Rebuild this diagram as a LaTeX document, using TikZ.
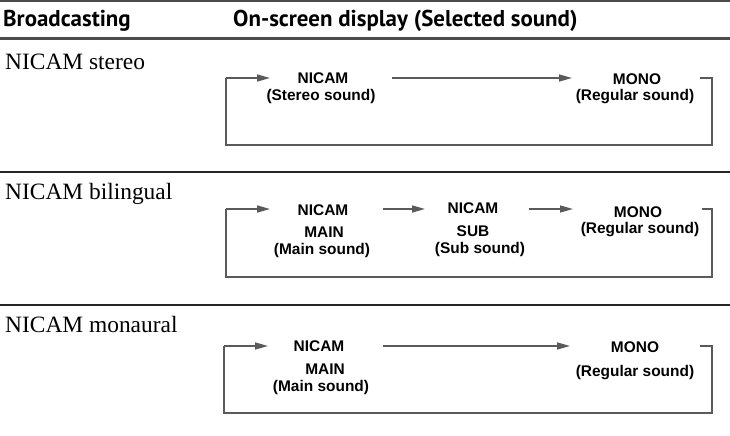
\documentclass[tikz,border=0pt]{standalone}
\usepackage{fontspec}
\setmainfont{Liberation Serif}
\newfontfamily\diagfont{Liberation Sans}
\newfontfamily\hdrfont{PT Sans}
\usetikzlibrary{arrows.meta}
\definecolor{linegray}{HTML}{5A5A5A}
\begin{document}
\begin{tikzpicture}[x=1bp,y=-1bp,
  lbl/.style={inner sep=0pt, font=\diagfont\bfseries\fontsize{15.5}{18}\selectfont},
  hdr/.style={inner sep=0pt, anchor=base west, font=\hdrfont\bfseries\fontsize{23}{26}\selectfont},
  row/.style={inner sep=0pt, anchor=base west, font=\fontsize{23.5}{27}\selectfont},
  loop/.style={draw=linegray, line width=1.5bp},
  arr/.style={loop, -{Triangle[length=13bp,width=7bp]}},
  rule/.style={draw=black!70, line width=2.2bp},
  sep/.style={draw=black!85, line width=1.1bp}]
\useasboundingbox (0,0) rectangle (730,436);
% header
\coordinate (r1a) at (0,1.2); \coordinate (r1b) at (730,1.2);
\coordinate (r2a) at (0,38.5); \coordinate (r2b) at (730,38.5);
\draw[rule] (r1a) -- (r1b);
\draw[rule] (r2a) -- (r2b);
\node[hdr] (hb) at (3,27) {Broadcasting};
\node[hdr] (ho) at (233,27) {On-screen display (Selected sound)};
% separators
\coordinate (s1a) at (0,172); \coordinate (s1b) at (730,172);
\coordinate (s2a) at (0,305); \coordinate (s2b) at (730,305);
\draw[sep] (s1a) -- (s1b);
\draw[sep] (s2a) -- (s2b);
% row labels
\node[row] (l1) at (5,70) {NICAM stereo};
\node[row] (l2) at (5,200) {NICAM bilingual};
\node[row] (l3) at (5,333) {NICAM monaural};
% block 1
\node[lbl] (a1) at (323,78) {NICAM};
\node[lbl] (a1s) at (321,97) {(Stereo sound)};
\node[lbl] (a2) at (637,79) {MONO};
\node[lbl] (a2s) at (635,97) {(Regular sound)};
\coordinate (a0) at (226,78);
\coordinate (a0t) at (270,78);
\coordinate (a1e) at (392,78);
\coordinate (a2w) at (572,78);
\coordinate (a2e) at (700,78);
\coordinate (ar) at (712,78);
\coordinate (abr) at (712,145);
\coordinate (abl) at (226,145);
\draw[arr] (a0) -- (a0t);
\draw[arr] (a1e) -- (a2w);
\draw[loop] (a2e) -- (ar) -- (abr) -- (abl) -- (a0);
% block 2
\node[lbl] (b1) at (323,210) {NICAM};
\node[lbl] (b1m) at (324,232) {MAIN};
\node[lbl] (b1s) at (322,251) {(Main sound)};
\node[lbl] (b2) at (473,208) {NICAM};
\node[lbl] (b2m) at (473,231) {SUB};
\node[lbl] (b2s) at (480,250) {(Sub sound)};
\node[lbl] (b3) at (638,212) {MONO};
\node[lbl] (b3s) at (640,230) {(Regular sound)};
\coordinate (b0) at (226,209);
\coordinate (b0t) at (270,209);
\coordinate (b1e) at (383,209);
\coordinate (b2w) at (425,209);
\coordinate (b2e) at (529,209);
\coordinate (b3w) at (573,209);
\coordinate (b3e) at (702,209);
\coordinate (br) at (712,209);
\coordinate (bbr) at (712,277);
\coordinate (bbl) at (226,277);
\draw[arr] (b0) -- (b0t);
\draw[arr] (b1e) -- (b2w);
\draw[arr] (b2e) -- (b3w);
\draw[loop] (b3e) -- (br) -- (bbr) -- (bbl) -- (b0);
% block 3
\node[lbl] (c1) at (319,346) {NICAM};
\node[lbl] (c1m) at (325,369) {MAIN};
\node[lbl] (c1s) at (321,388) {(Main sound)};
\node[lbl] (c2) at (635,347) {MONO};
\node[lbl] (c2s) at (635,373) {(Regular sound)};
\coordinate (c0) at (224,346);
\coordinate (c0t) at (268,346);
\coordinate (c1e) at (383,346);
\coordinate (c2w) at (570,346);
\coordinate (c2e) at (700,346);
\coordinate (cr) at (712,346);
\coordinate (cbr) at (712,413);
\coordinate (cbl) at (224,413);
\draw[arr] (c0) -- (c0t);
\draw[arr] (c1e) -- (c2w);
\draw[loop] (c2e) -- (cr) -- (cbr) -- (cbl) -- (c0);
\end{tikzpicture}
\end{document}
